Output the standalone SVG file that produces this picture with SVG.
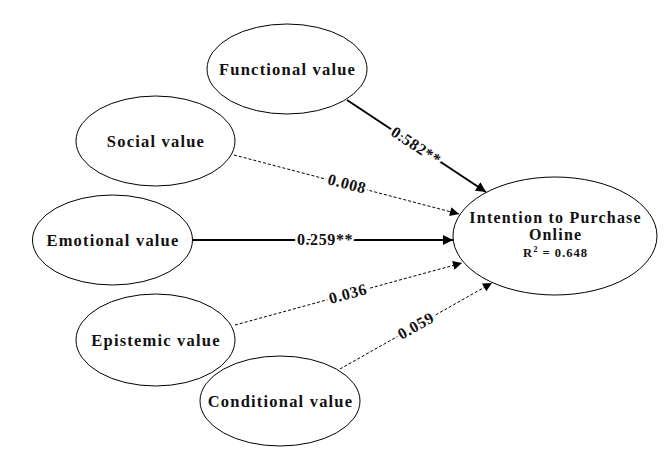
<svg xmlns="http://www.w3.org/2000/svg" width="664" height="454" viewBox="0 0 664 454">
<style>
.n{fill:#fff;stroke:#000;stroke-width:1}
.t{font-family:"Liberation Serif","Times New Roman",serif;font-weight:bold;font-size:16.5px;letter-spacing:1.2px;fill:#111;text-anchor:middle}
.s{stroke:#000;stroke-width:2;fill:none}
.d{stroke:#000;stroke-width:1;stroke-dasharray:3 2;fill:none}
.l{font-family:"Liberation Serif","Times New Roman",serif;font-weight:bold;font-size:16px;letter-spacing:0.6px;fill:#111;text-anchor:middle;stroke:#fff;stroke-width:5px;paint-order:stroke;stroke-linejoin:round}
</style>
<defs>
<marker id="a" viewBox="0 0 10 10" refX="10" refY="5" markerWidth="16" markerHeight="10" markerUnits="userSpaceOnUse" orient="auto">
<path d="M0,0 L10,5 L0,10 z" fill="#000"/>
</marker>
<marker id="b" viewBox="0 0 10 10" refX="10" refY="5" markerWidth="16" markerHeight="9" markerUnits="userSpaceOnUse" orient="auto">
<path d="M0,0 L10,5 L0,10 z" fill="#000"/>
</marker>
</defs>
<rect width="664" height="454" fill="#fff"/>
<g id="connectors">
<line class="s" x1="347" y1="100" x2="486" y2="192" marker-end="url(#a)"/>
<line class="d" x1="234" y1="155" x2="459" y2="214" marker-end="url(#b)"/>
<line class="s" x1="193" y1="240" x2="453" y2="240" marker-end="url(#a)"/>
<line class="d" x1="235" y1="325" x2="462" y2="263" marker-end="url(#b)"/>
<line class="d" x1="340" y1="369" x2="492" y2="283" marker-end="url(#b)"/>
<text class="l" transform="translate(416,146) rotate(33.5)" y="5">0.582**</text>
<text class="l" transform="translate(347,184) rotate(14.7)" y="5">0.008</text>
<text class="l" x="325" y="245">0.259**</text>
<text class="l" transform="translate(348,294) rotate(-15)" y="5">0.036</text>
<text class="l" transform="translate(416,326) rotate(-29.5)" y="5">0.059</text>
</g>
<g id="functional"><ellipse class="n" cx="287" cy="69" rx="80" ry="45"/><text class="t" x="287.6" y="74.5">Functional value</text></g>
<g id="social"><ellipse class="n" cx="155.5" cy="141" rx="79.5" ry="45"/><text class="t" x="156" y="146.5">Social value</text></g>
<g id="emotional"><ellipse class="n" cx="112.5" cy="240" rx="80" ry="45"/><text class="t" x="113" y="245.5">Emotional value</text></g>
<g id="epistemic"><ellipse class="n" cx="155.5" cy="340" rx="79.5" ry="46"/><text class="t" x="156" y="345.5">Epistemic value</text></g>
<g id="conditional"><ellipse class="n" cx="280" cy="401" rx="80" ry="45"/><text class="t" x="280.5" y="406.5">Conditional value</text></g>
<g id="intention"><ellipse class="n" cx="555" cy="236" rx="102" ry="59"/>
<text class="t" x="555.6" y="223" style="font-size:16px;letter-spacing:1.2px">Intention to Purchase</text>
<text class="t" x="555.6" y="240" style="font-size:16px;letter-spacing:1.2px">Online</text>
<text class="t" x="555.5" y="256.5" style="font-size:12.5px;letter-spacing:1px">R<tspan dy="-5" style="font-size:8.5px">2</tspan><tspan dy="5"> = 0.648</tspan></text>
</g>
</svg>
